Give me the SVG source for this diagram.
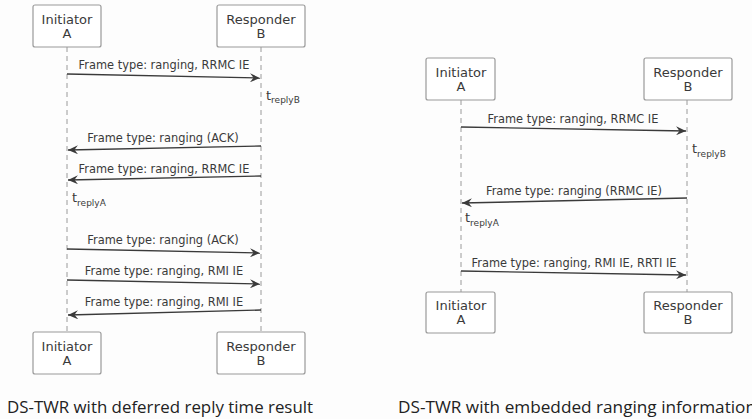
<svg xmlns="http://www.w3.org/2000/svg" width="752" height="419" viewBox="0 0 752 419">
<style>
.box{fill:#fff;stroke:#9a9a9a;stroke-width:1.2}
.bt{font-family:"DejaVu Sans",sans-serif;font-size:13px;fill:#3a3a3a;text-anchor:middle}
.life{stroke:#9a9a9a;stroke-width:1;stroke-dasharray:5,4;fill:none}
.msg{stroke:#3a3a3a;stroke-width:1.4;fill:none;marker-end:url(#ah)}
.ml{font-family:"DejaVu Sans",sans-serif;font-size:11.4px;fill:#3a3a3a;text-anchor:middle}
.t{font-family:"DejaVu Sans",sans-serif;font-size:13px;fill:#3a3a3a}
.sub{font-size:9px}
.cap{font-family:"Open Sans","Liberation Sans",sans-serif;font-size:16px;fill:#222}
</style>
<defs>
<marker id="ah" markerUnits="userSpaceOnUse" markerWidth="11" markerHeight="9" refX="10" refY="4.5" orient="auto">
<path d="M0,0 L10,4.5 L0,9 L3.5,4.5 z" fill="#3a3a3a"/>
</marker>
</defs>
<rect width="752" height="419" fill="#fdfdfd"/>

<g id="connectors">
<line class="life" x1="67" y1="47" x2="67" y2="332"/>
<line class="life" x1="261" y1="47" x2="261" y2="332"/>
<line class="life" x1="461" y1="100" x2="461" y2="292"/>
<line class="life" x1="687" y1="100" x2="687" y2="292"/>

<line class="msg" x1="67" y1="74" x2="260" y2="78"/>
<line class="msg" x1="261" y1="146" x2="68" y2="150"/>
<line class="msg" x1="261" y1="176" x2="68" y2="180"/>
<line class="msg" x1="67" y1="249" x2="260" y2="253"/>
<line class="msg" x1="67" y1="280" x2="260" y2="284"/>
<line class="msg" x1="261" y1="310" x2="68" y2="315"/>

<line class="msg" x1="461" y1="127" x2="686" y2="131"/>
<line class="msg" x1="687" y1="198" x2="462" y2="203"/>
<line class="msg" x1="461" y1="271" x2="686" y2="275"/>

<text class="ml" x="164" y="69">Frame type: ranging, RRMC IE</text>
<text class="ml" x="163" y="142">Frame type: ranging (ACK)</text>
<text class="ml" x="164" y="173">Frame type: ranging, RRMC IE</text>
<text class="ml" x="163" y="244">Frame type: ranging (ACK)</text>
<text class="ml" x="164" y="275">Frame type: ranging, RMI IE</text>
<text class="ml" x="164" y="306">Frame type: ranging, RMI IE</text>

<text class="ml" x="573" y="123">Frame type: ranging, RRMC IE</text>
<text class="ml" x="574" y="195">Frame type: ranging (RRMC IE)</text>
<text class="ml" x="574" y="267">Frame type: ranging, RMI IE, RRTI IE</text>

<text class="t" x="266" y="100">t<tspan class="sub" dy="3">replyB</tspan></text>
<text class="t" x="72" y="202">t<tspan class="sub" dy="4">replyA</tspan></text>
<text class="t" x="692" y="153">t<tspan class="sub" dy="4">replyB</tspan></text>
<text class="t" x="465" y="222">t<tspan class="sub" dy="4">replyA</tspan></text>
</g>

<g id="initiatorA-top-left">
<rect class="box" x="33" y="5" width="68" height="42" rx="2"/>
<text class="bt" x="67" y="24">Initiator</text>
<text class="bt" x="67" y="38">A</text>
</g>
<g id="responderB-top-left">
<rect class="box" x="217" y="5" width="88" height="42" rx="2"/>
<text class="bt" x="261" y="24">Responder</text>
<text class="bt" x="261" y="38">B</text>
</g>
<g id="initiatorA-bottom-left">
<rect class="box" x="33" y="332" width="68" height="42" rx="2"/>
<text class="bt" x="67" y="351">Initiator</text>
<text class="bt" x="67" y="365">A</text>
</g>
<g id="responderB-bottom-left">
<rect class="box" x="217" y="332" width="88" height="42" rx="2"/>
<text class="bt" x="261" y="351">Responder</text>
<text class="bt" x="261" y="365">B</text>
</g>

<g id="initiatorA-top-right">
<rect class="box" x="426" y="58" width="69" height="42" rx="2"/>
<text class="bt" x="461" y="77">Initiator</text>
<text class="bt" x="461" y="91">A</text>
</g>
<g id="responderB-top-right">
<rect class="box" x="644" y="58" width="88" height="42" rx="2"/>
<text class="bt" x="688" y="77">Responder</text>
<text class="bt" x="688" y="91">B</text>
</g>
<g id="initiatorA-bottom-right">
<rect class="box" x="426" y="292" width="69" height="41" rx="2"/>
<text class="bt" x="461" y="310">Initiator</text>
<text class="bt" x="461" y="324">A</text>
</g>
<g id="responderB-bottom-right">
<rect class="box" x="644" y="292" width="88" height="41" rx="2"/>
<text class="bt" x="688" y="310">Responder</text>
<text class="bt" x="688" y="324">B</text>
</g>

<g id="captions">
<text class="cap" x="7" y="413" textLength="306" lengthAdjust="spacingAndGlyphs">DS-TWR with deferred reply time result</text>
<text class="cap" x="398" y="413" textLength="358" lengthAdjust="spacingAndGlyphs">DS-TWR with embedded ranging information</text>
</g>
</svg>
